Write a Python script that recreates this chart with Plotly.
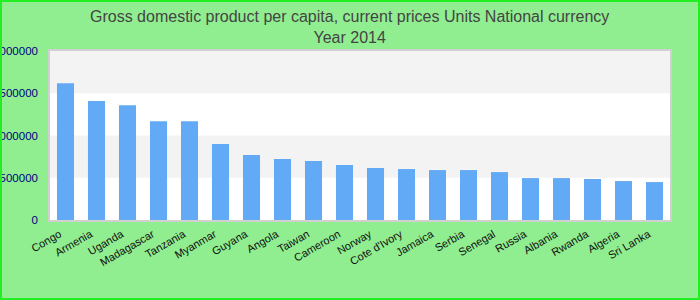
import plotly.graph_objects as go

countries = ["Congo", "Armenia", "Uganda", "Madagascar", "Tanzania", "Myanmar", "Guyana",
             "Angola", "Taiwan", "Cameroon", "Norway", "Cote d'Ivory", "Jamaica", "Serbia",
             "Senegal", "Russia", "Albania", "Rwanda", "Algeria", "Sri Lanka"]
gdp = [1619000, 1407000, 1359000, 1170000, 1170000, 898000, 768000,
       721000, 697000, 650000, 615000, 603000, 591000, 591000,
       567000, 496000, 496000, 485000, 461000, 449000]
ytick_vals = [0, 500000, 1000000, 1500000, 2000000]
title_lines = ["Gross domestic product per capita, current prices Units National currency", "Year 2014"]

W, H = 700, 300
ml, mr, mt, mb = 50, 30, 51, 80
pw, ph = W - ml - mr, H - mt - mb

fig = go.Figure()
fig.add_trace(go.Bar(x=countries, y=gdp, marker=dict(color="#62aaf5", line=dict(width=0)),
                     width=0.55))

shapes = []
for i in range(len(ytick_vals) - 1):
    if i % 2 == 1:
        shapes.append(dict(type="rect", xref="paper", yref="y", x0=0, x1=1,
                           y0=ytick_vals[i], y1=ytick_vals[i + 1],
                           fillcolor="#f3f3f3", line=dict(width=0), layer="below"))
shapes.append(dict(type="rect", xref="paper", yref="paper",
                   x0=(-ml + 1) / pw, x1=1 + (mr - 1) / pw,
                   y0=(-mb + 1) / ph, y1=1 + (mt - 1) / ph,
                   line=dict(color="#22ee22", width=2), fillcolor="rgba(0,0,0,0)", layer="above"))

fig.add_annotation(text="<br>".join(title_lines), xref="paper", yref="paper",
                   x=(349 - ml) / pw, y=1 + (mt - 6) / ph, xanchor="center", yanchor="top",
                   showarrow=False, align="center",
                   font=dict(family="Liberation Sans, Arial", size=16, color="#444444"))

fig.update_layout(
    width=W, height=H,
    margin=dict(l=ml, r=mr, t=mt, b=mb, autoexpand=False),
    paper_bgcolor="#90ee90",
    plot_bgcolor="#ffffff",
    showlegend=False,
    shapes=shapes,
    xaxis=dict(tickangle=-30, tickfont=dict(family="Liberation Sans, Arial", size=11, color="#111111"),
               showline=True, mirror=True, linecolor="#d0d0d0", linewidth=1.5,
               ticks="", showgrid=False, automargin=False, range=[-0.5, len(countries) - 0.5],
               ticklabelshift=-6, ticklabelstandoff=2),
    yaxis=dict(range=[0, 2000000], tickvals=ytick_vals, ticktext=[str(v) for v in ytick_vals],
               tickfont=dict(family="Liberation Sans, Arial", size=11.5, color="#000080"),
               showline=True, mirror=True, linecolor="#d0d0d0", linewidth=1.5, automargin=False,
               showgrid=False, zeroline=False, ticks="", ticklabelstandoff=8),
)

fig.write_html("out.html")
